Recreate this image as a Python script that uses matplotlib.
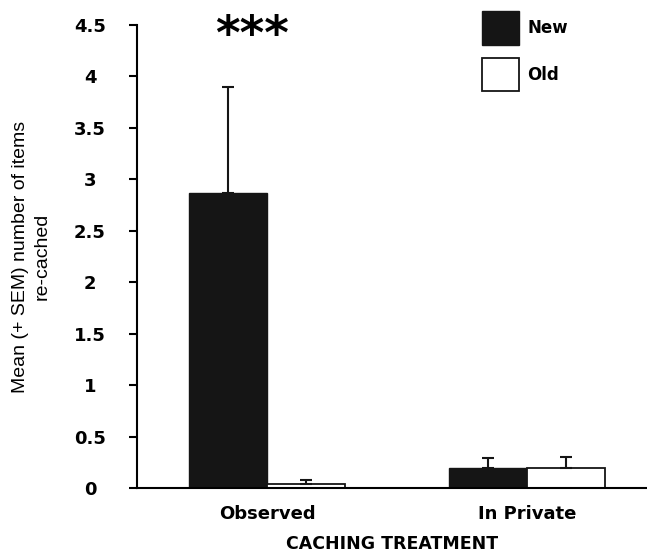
import matplotlib
matplotlib.use("Agg")
import matplotlib.pyplot as plt
import numpy as np

plt.rcParams["font.family"] = ["Liberation Sans", "DejaVu Sans"]

groups = ["Observed", "In Private"]
new_means = [2.87, 0.19]
new_sem = [1.03, 0.10]
old_means = [0.04, 0.19]
old_sem = [0.04, 0.11]
yticks = [0, 0.5, 1, 1.5, 2, 2.5, 3, 3.5, 4, 4.5]
ytick_labels = ["0", "0.5", "1", "1.5", "2", "2.5", "3", "3.5", "4", "4.5"]


def main():
    fig = plt.figure(figsize=(6.47, 5.57), dpi=100)
    ax = fig.add_axes([0.212, 0.124, 0.788, 0.831])

    x = np.arange(len(groups))
    w = 0.3
    ekw = dict(ecolor="#151515", elinewidth=1.5, capthick=1.5)
    ax.bar(x - w / 2, new_means, w, color="#151515", edgecolor="#151515",
           yerr=[np.zeros(len(new_sem)), new_sem], capsize=4.5,
           error_kw=ekw, label="New", zorder=2)
    ax.bar(x + w / 2, old_means, w, color="white", edgecolor="#151515",
           linewidth=1.3, yerr=[np.zeros(len(old_sem)), old_sem], capsize=4.5,
           error_kw=ekw, label="Old", zorder=2)

    ax.text(x[0] - 0.06, 4.27, "***", ha="center", va="baseline",
            fontsize=34, fontweight="bold", family="DejaVu Sans",
            clip_on=False)

    ax.set_xlim(-0.5, 1.46)
    ax.set_ylim(0, 4.5)
    ax.set_yticks(yticks)
    ax.set_yticklabels(ytick_labels, fontsize=13, fontweight="bold",
                       family="DejaVu Sans")
    ax.set_xticks(x)
    ax.set_xticklabels(groups, fontsize=13, fontweight="bold",
                       family="DejaVu Sans")
    ax.tick_params(axis="x", length=0, pad=12)
    ax.tick_params(axis="y", length=6, width=1.5, pad=28, direction="out")
    for lbl in ax.get_yticklabels():
        lbl.set_horizontalalignment("center")

    ax.spines["top"].set_visible(False)
    ax.spines["right"].set_visible(False)
    ax.spines["left"].set_linewidth(1.5)
    ax.spines["bottom"].set_linewidth(1.5)

    ax.set_xlabel("CACHING TREATMENT", fontsize=12.5, fontweight="bold",
                  family="DejaVu Sans", labelpad=9)
    ax.set_ylabel("Mean (+ SEM) number of items\nre-cached", fontsize=14,
                  labelpad=17, linespacing=1.35)

    ax.legend(loc="upper left", bbox_to_anchor=(0.646, 1.062),
              frameon=False, handlelength=2.24, handleheight=2.72,
              labelspacing=0.78, handletextpad=0.5,
              prop=dict(size=12, weight="bold", family="DejaVu Sans"))

    fig.savefig("out.png", dpi=100)


if __name__ == "__main__":
    main()
